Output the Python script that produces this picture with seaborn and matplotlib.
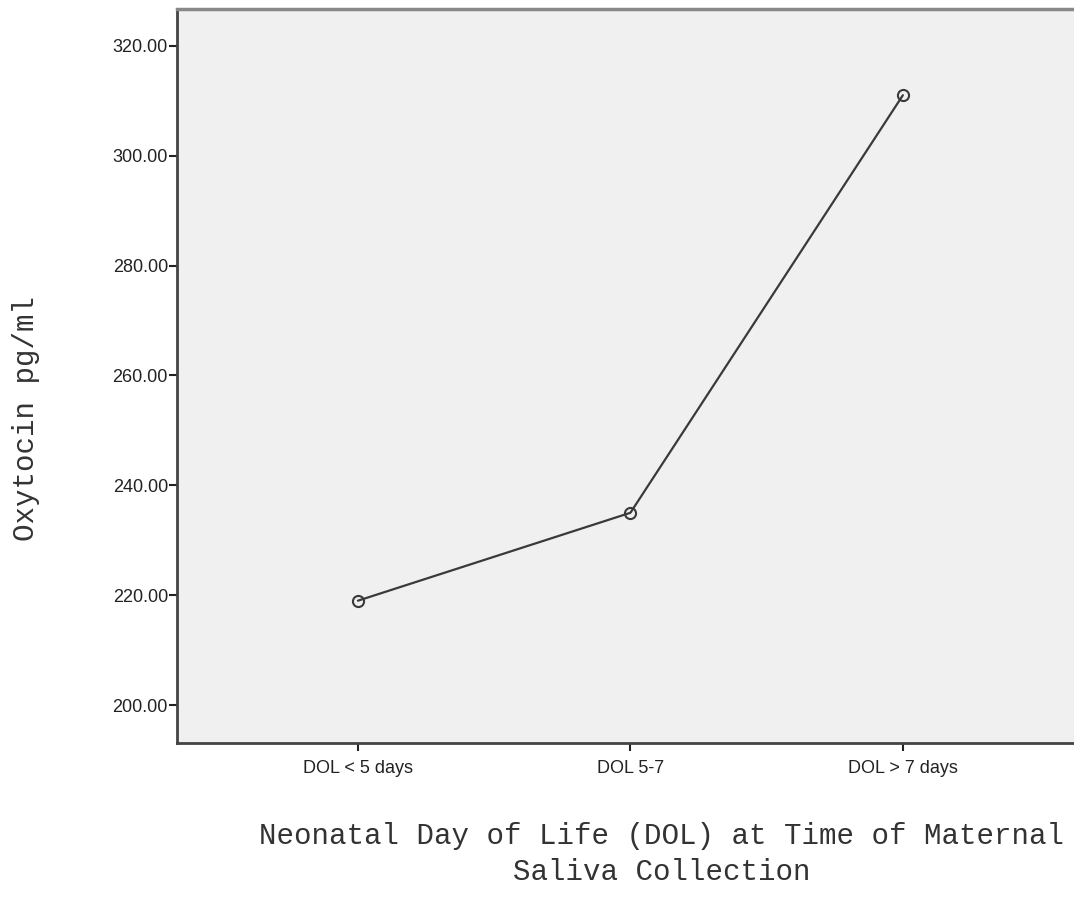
import matplotlib
matplotlib.use("Agg")
import matplotlib.pyplot as plt
import seaborn as sns
import pandas as pd

categories = ["DOL < 5 days", "DOL 5-7", "DOL > 7 days"]
oxytocin = [219.0, 235.0, 311.0]
yticks = [200, 220, 240, 260, 280, 300, 320]

sns.set_theme(style="white")
plt.rcParams['font.family'] = ['Liberation Sans', 'DejaVu Sans']

df = pd.DataFrame({"dol": categories, "oxy": oxytocin})

fig = plt.figure(figsize=(10.74, 9.13), dpi=100)
ax = fig.add_axes([0.1648, 0.1862, 0.8352, 0.8040])
ax.set_facecolor("#f0f0f0")

sns.lineplot(data=df, x="dol", y="oxy", sort=False, ax=ax, color="#3a3a3a",
             linewidth=1.6, marker="o", markersize=8, markerfacecolor="none",
             markeredgecolor="#3a3a3a", markeredgewidth=1.5)

ax.set_xlim(-0.664, 2.628)
ax.set_ylim(193.1, 326.7)
ax.set_yticks(yticks)
ax.set_yticklabels([f"{v:.2f}" for v in yticks])
ax.set_xticks(range(len(categories)))
ax.set_xticklabels(categories)
ax.tick_params(axis="both", labelsize=13, colors="#222222", direction="out",
               length=6, width=1.5, left=True, bottom=True)
ax.tick_params(axis="y", pad=0.5)
ax.tick_params(axis="x", pad=6)

for side in ["left", "bottom"]:
    ax.spines[side].set_color("#444444")
    ax.spines[side].set_linewidth(2)
ax.spines["top"].set_color("#888888")
ax.spines["top"].set_linewidth(2.5)
ax.spines["right"].set_visible(False)

ax.set_xlabel("")
ax.set_ylabel("")
fig.text(0.616, 0.030, "Neonatal Day of Life (DOL) at Time of Maternal\nSaliva Collection",
         ha="center", va="bottom", fontsize=21, family="Liberation Mono",
         color="#333333", linespacing=1.35)
fig.text(0.024, 0.542, "Oxytocin pg/ml", rotation=90, ha="center", va="center",
         fontsize=21, family="Liberation Mono", color="#333333")

fig.savefig("out.png", dpi=100)
